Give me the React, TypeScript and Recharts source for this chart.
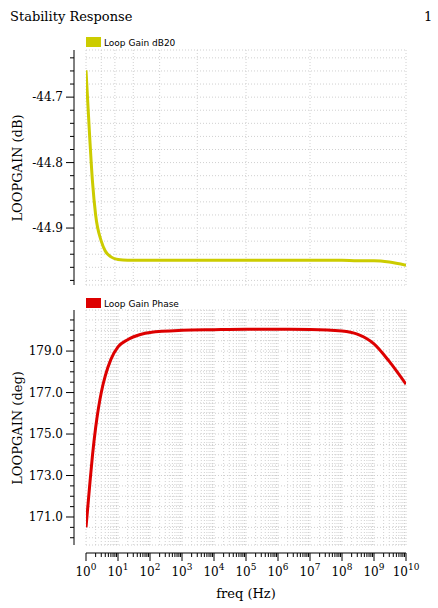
import React from 'react';
import { ComposedChart, Line, XAxis, YAxis, CartesianGrid } from 'recharts';

const freq = [1, 1.3, 1.6, 2, 3, 4, 6, 10, 20, 50, 100, 1e3, 1e4, 1e5, 1e6, 1e7, 1e8, 3e8, 1e9, 3e9, 1e10];
const gainDb = [-44.659, -44.76, -44.83, -44.88, -44.92, -44.935, -44.944, -44.948, -44.949, -44.949, -44.949, -44.949, -44.949, -44.949, -44.949, -44.949, -44.949, -44.95, -44.95, -44.952, -44.957];
const phaseDeg = [170.5, 172.5, 174.0, 175.3, 177.0, 177.8, 178.6, 179.2, 179.55, 179.8, 179.9, 180.0, 180.03, 180.05, 180.05, 180.04, 179.97, 179.82, 179.35, 178.5, 177.4];
const decades = [0, 1, 2, 3, 4, 5, 6, 7, 8, 9, 10];
const gainTicks = [-44.98, -44.96, -44.94, -44.92, -44.9, -44.88, -44.86, -44.84, -44.82, -44.8, -44.78, -44.76, -44.74, -44.72, -44.7, -44.68, -44.66, -44.64];
const gainLabels = [-44.9, -44.8, -44.7];
const phaseTicks = [170, 170.5, 171, 171.5, 172, 172.5, 173, 173.5, 174, 174.5, 175, 175.5, 176, 176.5, 177, 177.5, 178, 178.5, 179, 179.5, 180, 180.5];
const phaseLabels = [171, 173, 175, 177, 179];

const xTicks: number[] = [];
decades.forEach((d) => {
  xTicks.push(Math.pow(10, d));
  if (d < 10) for (let m = 2; m <= 9; m++) xTicks.push(m * Math.pow(10, d));
});

const data = freq.map((f, i) => ({ f, g: gainDb[i], p: phaseDeg[i] }));

const serif = '"DejaVu Serif", serif';
const sans = '"DejaVu Sans", sans-serif';

const makeYTick = (labels: number[], fmt: (v: number) => string) => (props: any) => {
  const { y, payload } = props;
  const v = payload.value;
  const major = labels.some((l) => Math.abs(l - v) < 1e-6);
  return (
    <g>
      <line x1={74} x2={major ? 66 : 70} y1={y} y2={y} stroke="#000" strokeWidth={1} />
      {major && (
        <text x={63} y={y + 4} textAnchor="end" fontFamily={serif} fontSize={12} fill="#000">{fmt(v)}</text>
      )}
    </g>
  );
};

const XTick = (props: any) => {
  const { x, payload } = props;
  const v = payload.value;
  const lg = Math.log10(v);
  const major = Math.abs(lg - Math.round(lg)) < 1e-9;
  return (
    <g>
      <line x1={x} x2={x} y1={553} y2={major ? 561 : 557} stroke="#000" strokeWidth={1} />
      {major && (
        <text x={x} y={576} textAnchor="middle" fontFamily={serif} fontSize={12} fill="#000">
          10<tspan dy={-6} fontSize={9}>{Math.round(lg)}</tspan>
        </text>
      )}
    </g>
  );
};

export default function App() {
  return (
    <div style={{ position: 'fixed', left: 0, top: 0, width: 438, height: 608, overflow: 'hidden', background: '#fff', fontFamily: serif }}>
      <div style={{ position: 'absolute', left: 10, top: 9, fontSize: 13 }}>Stability Response</div>
      <div style={{ position: 'absolute', left: 424, top: 9, fontSize: 13 }}>1</div>
      <div style={{ position: 'absolute', left: 0, top: 0 }}>
        <ComposedChart width={438} height={300} data={data} margin={{ top: 50, right: 32, bottom: 15, left: 0 }}>
          <CartesianGrid stroke="#d0d0d0" strokeDasharray="1 2" />
          <XAxis dataKey="f" type="number" scale="log" domain={[1, 1e10]} ticks={xTicks} hide allowDataOverflow />
          <YAxis type="number" domain={[-44.987, -44.628]} ticks={gainTicks} width={86} axisLine={false} tickLine={false}
            tick={makeYTick(gainLabels, (v) => v.toFixed(1))} allowDataOverflow interval={0} />
          <Line dataKey="g" stroke="#cccc00" strokeWidth={3} dot={false} type="monotone" isAnimationActive={false} />
        </ComposedChart>
      </div>
      <div style={{ position: 'absolute', left: 0, top: 0 }}>
        <ComposedChart width={438} height={608} data={data} margin={{ top: 310, right: 32, bottom: 0, left: 0 }}>
          <CartesianGrid stroke="#d0d0d0" strokeDasharray="1 2" />
          <XAxis dataKey="f" type="number" scale="log" domain={[1, 1e10]} ticks={xTicks} height={63} axisLine={false} tickLine={false}
            tick={<XTick />} interval={0} allowDataOverflow />
          <YAxis type="number" domain={[169.65, 180.98]} ticks={phaseTicks} width={86} axisLine={false} tickLine={false}
            tick={makeYTick(phaseLabels, (v) => v.toFixed(1))} allowDataOverflow interval={0} />
          <Line dataKey="p" stroke="#dd0000" strokeWidth={3} dot={false} type="monotone" isAnimationActive={false} />
        </ComposedChart>
      </div>
      <svg width={438} height={608} style={{ position: 'absolute', left: 0, top: 0, pointerEvents: 'none' }}>
        <line x1={74} x2={74} y1={50} y2={285} stroke="#000" />
        <line x1={74} x2={74} y1={310} y2={545} stroke="#000" />
        <line x1={86} x2={406} y1={553} y2={553} stroke="#000" />
        <rect x={86} y={37} width={15} height={10} fill="#cccc00" />
        <text x={104} y={46} fontFamily={sans} fontSize={9}>Loop Gain dB20</text>
        <rect x={86} y={298} width={15} height={10} fill="#dd0000" />
        <text x={104} y={307} fontFamily={sans} fontSize={9}>Loop Gain Phase</text>
        <text transform="translate(22,168) rotate(-90)" textAnchor="middle" fontFamily={serif} fontSize={13}>LOOPGAIN (dB)</text>
        <text transform="translate(22,428) rotate(-90)" textAnchor="middle" fontFamily={serif} fontSize={13}>LOOPGAIN (deg)</text>
        <text x={246} y={598} textAnchor="middle" fontFamily={serif} fontSize={13}>freq (Hz)</text>
      </svg>
    </div>
  );
}
